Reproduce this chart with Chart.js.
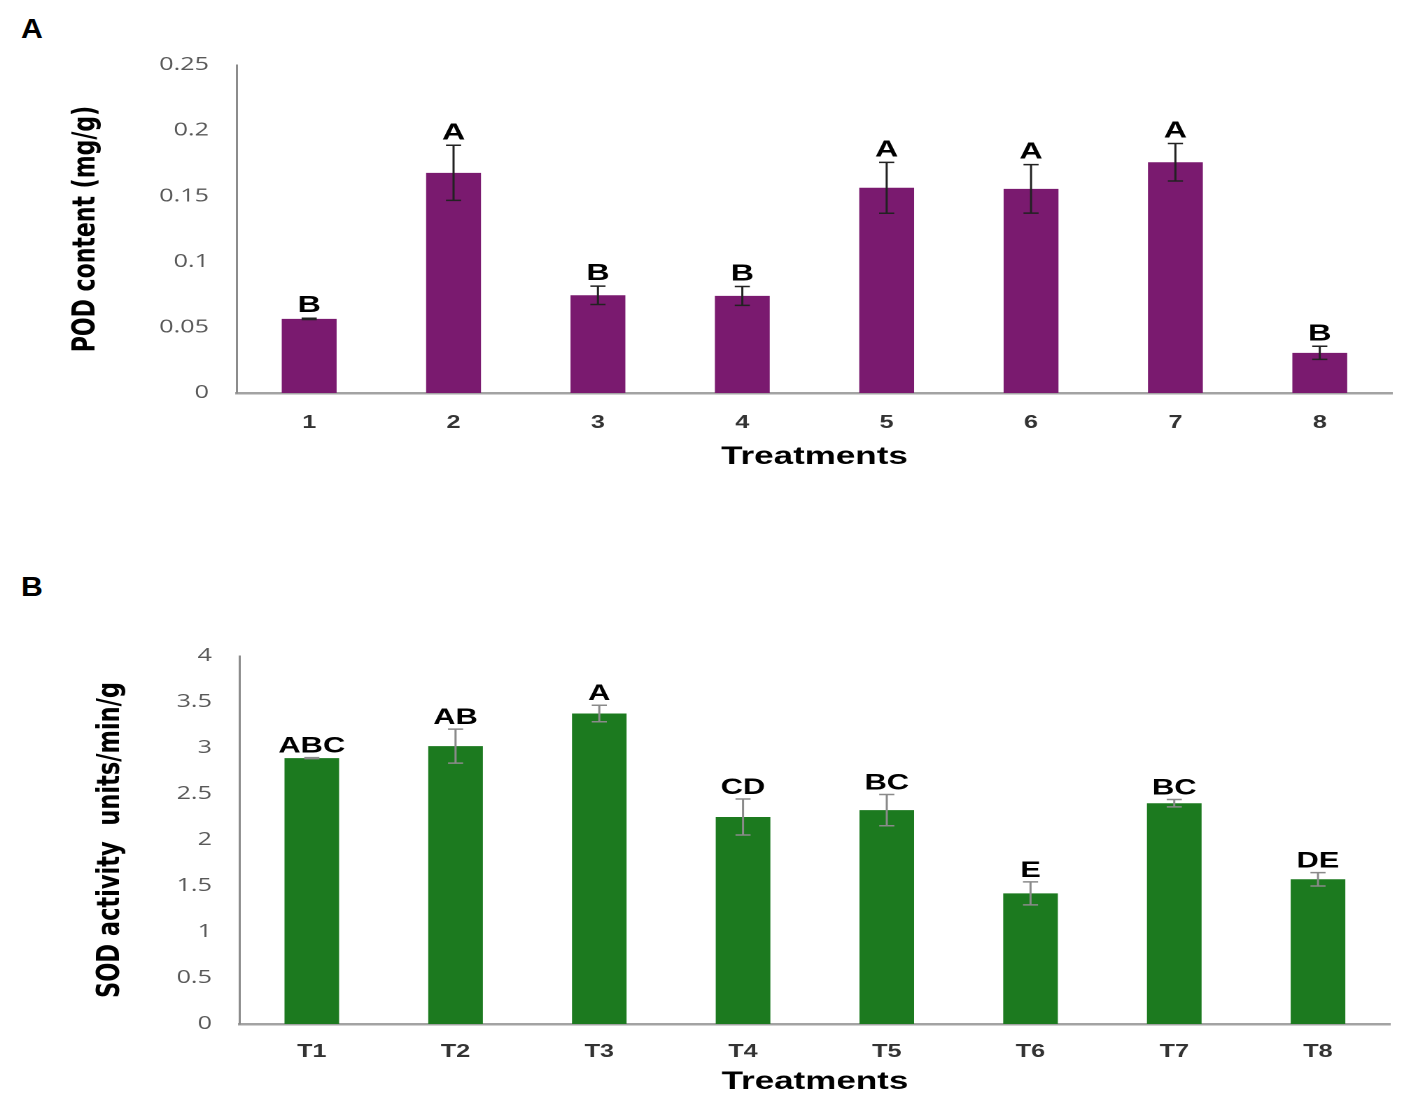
<!DOCTYPE html>
<html>
<head>
<meta charset="utf-8">
<script src="https://cdn.jsdelivr.net/npm/chart.js@4.4.1/dist/chart.umd.min.js"></script>
<style>
  body { margin: 0; background: #fff; width: 1418px; height: 1102px; overflow: hidden; position: relative; font-family: "Liberation Sans", Arial, sans-serif; }
  /* the source figure is stretched sideways, so the charts are drawn narrow and widened */
  .wrap { position: absolute; left: 0; transform-origin: 0 0; transform: scaleX(1.3998); }
  .panel { position: absolute; font-weight: bold; font-size: 27px; line-height: 27px; color: #000; transform-origin: 0 0; transform: scaleX(1.12); }
</style>
</head>
<body>
<div class="panel" style="left:21px;top:16px">A</div>
<div class="wrap" style="top:0"><canvas id="podChart" width="1013" height="490"></canvas></div>
<div class="panel" style="left:21px;top:574px">B</div>
<div class="wrap" style="top:540px"><canvas id="sodChart" width="1013" height="562"></canvas></div>

<script>
// panel A - POD content
const podLabels = ['1', '2', '3', '4', '5', '6', '7', '8'];
const podValues = [0.0565, 0.1678, 0.0745, 0.0740, 0.1564, 0.1556, 0.1759, 0.0306];
const podErrors = [0.0005, 0.021, 0.007, 0.0072, 0.0194, 0.0185, 0.0143, 0.005];
const podLetters = ['B', 'A', 'B', 'B', 'A', 'A', 'A', 'B'];
const podTicks = [0, 0.05, 0.1, 0.15, 0.2, 0.25];

// panel B - SOD activity
const sodLabels = ['T1', 'T2', 'T3', 'T4', 'T5', 'T6', 'T7', 'T8'];
const sodValues = [2.89, 3.02, 3.375, 2.25, 2.325, 1.42, 2.40, 1.573];
const sodErrors = [0.005, 0.185, 0.09, 0.195, 0.17, 0.125, 0.04, 0.073];
const sodLetters = ['ABC', 'AB', 'A', 'CD', 'BC', 'E', 'BC', 'DE'];
const sodTicks = [0, 0.5, 1, 1.5, 2, 2.5, 3, 3.5, 4];

// error bars + significance letters, drawn on top of the bars
function errorLetters(values, errors, letters, o) {
  return {
    id: 'errorLetters',
    afterDatasetsDraw(chart) {
      const ctx = chart.ctx;
      const y = chart.scales.y;
      chart.getDatasetMeta(0).data.forEach((bar, i) => {
        const top = y.getPixelForValue(values[i] + errors[i]);
        const bot = y.getPixelForValue(values[i] - errors[i]);
        ctx.save();
        ctx.strokeStyle = o.color;
        ctx.lineWidth = o.width;
        ctx.beginPath();
        ctx.moveTo(bar.x, top); ctx.lineTo(bar.x, bot);
        ctx.moveTo(bar.x - o.cap, top); ctx.lineTo(bar.x + o.cap, top);
        ctx.moveTo(bar.x - o.cap, bot); ctx.lineTo(bar.x + o.cap, bot);
        ctx.stroke();
        ctx.fillStyle = '#000';
        ctx.font = o.font;
        ctx.textAlign = 'center';
        ctx.textBaseline = 'alphabetic';
        ctx.fillText(letters[i], bar.x, top - o.gap);
        ctx.restore();
      });
    }
  };
}

function barChart(id, labels, values, errors, letters, ticks, o) {
  return new Chart(document.getElementById(id), {
    type: 'bar',
    data: {
      labels: labels,
      datasets: [{
        data: values,
        backgroundColor: o.color,
        borderWidth: 0,
        barPercentage: 0.38,
        categoryPercentage: 1
      }]
    },
    options: {
      responsive: false,
      animation: false,
      devicePixelRatio: 2,
      layout: { padding: { left: o.padLeft, right: o.padRight, top: o.padTop, bottom: 0 } },
      plugins: { legend: { display: false }, tooltip: { enabled: false } },
      scales: {
        x: {
          grid: { display: false, drawTicks: false },
          border: { color: '#a3a3a3', width: 2.5 },
          ticks: {
            color: '#333',
            font: { family: 'Liberation Sans', size: 18, weight: 'bold' },
            padding: o.xTickPad,
            maxRotation: 0,
            autoSkip: false
          },
          title: {
            display: true,
            text: 'Treatments',
            color: '#000',
            font: { family: 'Liberation Sans', size: 25, weight: 'bold' },
            padding: { top: 0, bottom: o.xTitlePad }
          },
          afterFit: s => { s.height = o.xHeight; }
        },
        y: {
          min: 0,
          max: ticks[ticks.length - 1],
          afterBuildTicks: s => { s.ticks = ticks.map(v => ({ value: v })); },
          grid: { display: false, drawTicks: false },
          border: { color: '#8c8c8c', width: 1.5 },
          ticks: {
            color: '#595959',
            font: { family: 'Open Sans', size: 18 },
            padding: 20,
            callback: v => String(v)
          },
          title: {
            display: true,
            text: o.yTitle,
            color: '#000',
            font: { family: 'DejaVu Sans', size: o.yTitleSize, weight: 'bold' },
            padding: { top: 0, bottom: 0 }
          },
          afterFit: s => { s.width = o.yWidth; }
        }
      }
    },
    plugins: [errorLetters(values, errors, letters, o.err)]
  });
}

barChart('podChart', podLabels, podValues, podErrors, podLetters, podTicks, {
  color: '#7a1a6f',
  yTitle: 'POD content (mg/g)',
  yTitleSize: 22,
  padLeft: 48.6, yWidth: 120.7, padRight: 18.6, padTop: 65,
  xHeight: 97, xTickPad: 19, xTitlePad: 18,
  err: { color: '#222', width: 1.5, cap: 5.4, gap: 6, font: 'bold 23px "Liberation Sans"' }
});

barChart('sodChart', sodLabels, sodValues, sodErrors, sodLetters, sodTicks, {
  color: '#1c7a1f',
  yTitle: 'SOD activity  units/min/g',
  yTitleSize: 22.5,
  padLeft: 65.8, yWidth: 105.6, padRight: 20.1, padTop: 116,
  xHeight: 78, xTickPad: 17, xTitlePad: 5,
  err: { color: '#8a8a8a', width: 1.5, cap: 5.4, gap: 5, font: 'bold 22px "Liberation Sans"' }
});
</script>
</body>
</html>
